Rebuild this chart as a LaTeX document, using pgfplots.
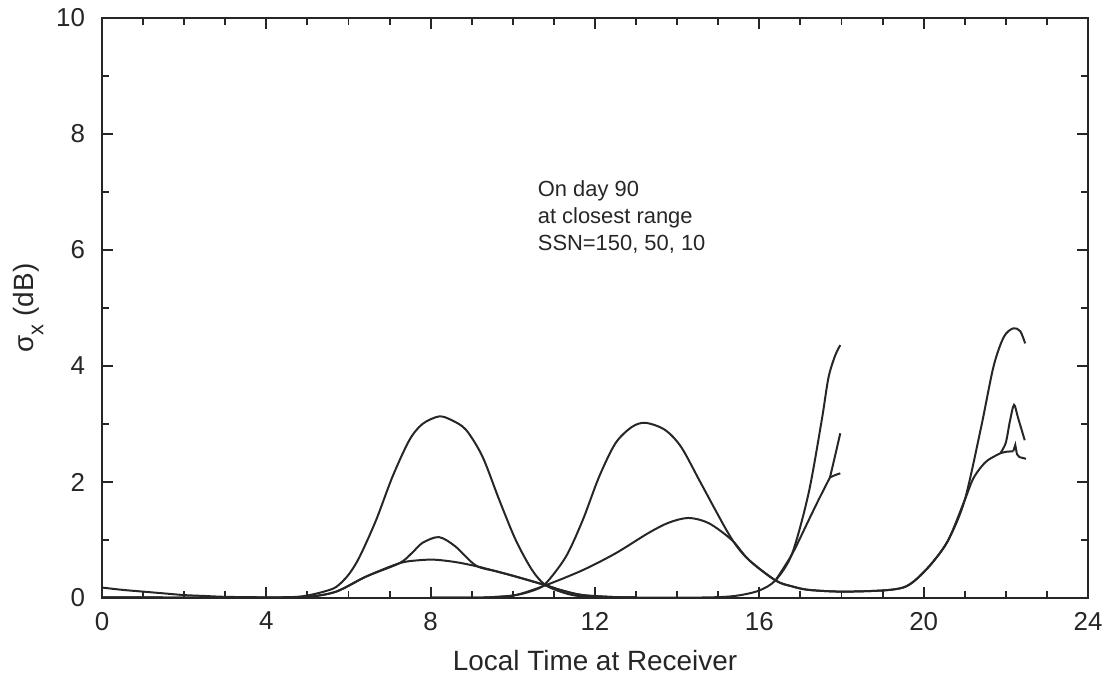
\documentclass[border=0pt]{standalone}
\usepackage{pgfplots}
\pgfplotsset{compat=1.18}
\usepackage{fontspec}
\setmainfont{Liberation Sans}
\begin{document}
\begin{tikzpicture}
\begin{axis}[
  scale only axis,
  width=493bp, height=290bp,
  xmin=0, xmax=24, ymin=0, ymax=10,
  xtick={0,4,...,24}, minor xtick={1,2,...,23},
  ytick={0,2,...,10}, minor ytick={1,3,...,9},
  tick align=inside,
  major tick length=5.5bp, minor tick length=3.5bp,
  axis line style={line width=1.1pt, black!85},
  every tick/.style={line width=1pt, black!85},
  /pgf/number format/assume math mode=true,
  ticklabel style={font=\fontsize{13}{15}\selectfont, black!85},
  xticklabel style={yshift=-3.5bp},
  yticklabel style={xshift=-5bp},
  xlabel={Local Time at Receiver},
  ylabel={σ\raisebox{-0.7ex}{\fontsize{11}{13}\selectfont x} (dB)},
  label style={font=\fontsize{14}{17}\selectfont, black!85},
  xlabel style={at={(axis description cs:0.5,0)},anchor=center,yshift=-31.5bp},
  ylabel style={at={(axis description cs:-0.075,0.5)},anchor=center},
  every axis plot/.append style={line width=1.0pt, black!85},
]
% morning big (with decaying start)
\addplot[smooth] coordinates {(0,0.18) (0.5,0.14) (1,0.11) (1.5,0.08) (2,0.05) (2.5,0.035) (3,0.02) (4,0.012) (4.7,0.018) (5.05,0.05) (5.4,0.11) (5.7,0.19) (6,0.4) (6.27,0.71) (6.67,1.34) (7.07,2.09) (7.48,2.72) (7.8,3.0) (8.2,3.13) (8.5,3.07) (8.86,2.9) (9.26,2.44) (9.67,1.69) (10.07,1.0) (10.47,0.48) (10.8,0.22) (11.29,0.08) (11.7,0.025) (12.3,0.01) (13,0.005)};
% morning bump
\addplot[smooth] coordinates {(0,0.01) (4,0.008) (5,0.02) (5.7,0.11) (6.43,0.37) (7.24,0.6) (7.55,0.78) (7.8,0.95) (8.2,1.05) (8.6,0.89) (9.1,0.56) (9.6,0.46) (10.07,0.37) (10.8,0.22) (11.2,0.13) (11.7,0.05) (12.5,0.015) (13,0.01)};
% morning broad
\addplot[smooth] coordinates {(0,0.01) (4,0.008) (5,0.02) (5.7,0.11) (6.43,0.37) (7.24,0.6) (7.7,0.65) (8.1,0.66) (8.6,0.62) (9.1,0.55) (9.6,0.46) (10.07,0.37) (10.8,0.22) (11.2,0.13) (11.7,0.05) (12.5,0.015) (13,0.01)};
% afternoon big -> evening big
\addplot[smooth] coordinates {(8,0.005) (9,0.005) (9.5,0.015) (10.07,0.05) (10.5,0.13) (10.8,0.25) (11.29,0.71) (11.7,1.34) (12.1,2.09) (12.5,2.67) (12.9,2.95) (13.23,3.02) (13.7,2.9) (14.1,2.6) (14.6,1.95) (15.3,1.05) (15.74,0.66) (16.4,0.3) (16.8,0.2) (17.2,0.14) (18,0.11) (19,0.13) (19.5,0.18) (19.8,0.31) (20.2,0.6) (20.6,1.0) (21,1.69) (21.4,2.95) (21.7,3.99) (21.95,4.5) (22.18,4.65) (22.35,4.6) (22.47,4.39)};
% afternoon broad -> evening lower
\addplot[smooth] coordinates {(8,0.005) (9,0.005) (9.5,0.015) (10.07,0.05) (10.8,0.22) (11.7,0.48) (12.5,0.77) (13.3,1.12) (13.8,1.3) (14.28,1.38) (14.77,1.29) (15.33,1.0) (15.74,0.66) (16.4,0.3) (16.8,0.2) (17.2,0.14) (18,0.11) (19,0.13) (19.5,0.18) (19.8,0.31) (20.2,0.6) (20.6,1.0) (21,1.69) (21.2,2.05) (21.4,2.26) (21.57,2.38) (21.88,2.5) (22.0,2.52) (22.18,2.53)};
\addplot[sharp plot] coordinates {(22.18,2.53) (22.23,2.64) (22.27,2.48) (22.33,2.43) (22.49,2.40)};
% evening mid spike
\addplot[smooth] coordinates {(21.88,2.51) (22.0,2.68) (22.1,3.05) (22.2,3.33) (22.3,3.1) (22.46,2.72)};
% 16-18 rising big
\addplot[smooth] coordinates {(12,0.005) (14,0.005) (15,0.015) (15.5,0.045) (16,0.13) (16.4,0.31) (16.8,0.77) (17.2,1.81) (17.52,3.07) (17.68,3.79) (17.84,4.17) (17.97,4.36)};
% 16-18 lower
\addplot[smooth] coordinates {(16.4,0.31) (16.8,0.76) (17.2,1.34) (17.44,1.69) (17.72,2.08)};
\addplot[sharp plot] coordinates {(17.72,2.08) (17.85,2.12) (17.97,2.15)};
% 16-18 mid
\addplot[smooth] coordinates {(17.72,2.08) (17.84,2.44) (17.97,2.84)};
\node[anchor=north west, align=left, inner sep=0pt, font=\fontsize{11}{13.5}\selectfont, text=black!85] at (axis cs:10.6,7.2) {On day 90\\at closest range\\SSN=150, 50, 10};
\end{axis}
\pgfresetboundingbox
\path ([shift={(-51bp,-40bp)}]current axis.south west) rectangle ([shift={(10.5bp,9bp)}]current axis.north east);
\end{tikzpicture}
\end{document}
